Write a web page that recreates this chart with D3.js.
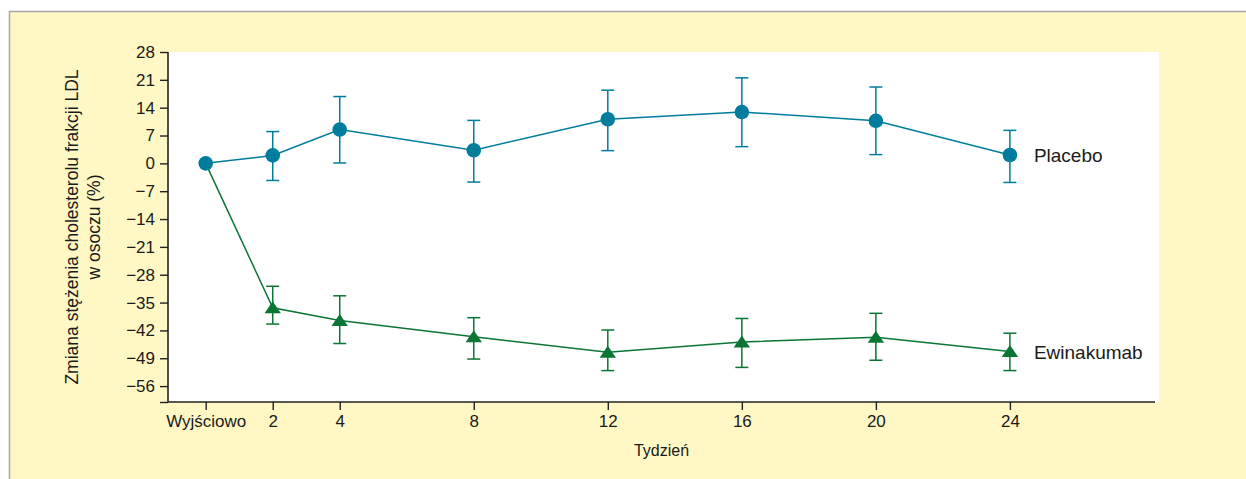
<!DOCTYPE html>
<html>
<head>
<meta charset="utf-8">
<script src="https://cdn.jsdelivr.net/npm/d3@7"></script>
<style>
  html, body { margin: 0; padding: 0; background: #ffffff; }
  svg { display: block; }
  text { font-family: "Liberation Sans", Arial, sans-serif; fill: #1a1a1a; }
</style>
</head>
<body>
<svg id="chart" width="1246" height="479"></svg>
<script>
// ---- data ----
const weeks = [0, 2, 4, 8, 12, 16, 20, 24];
const weekLabels = ["Wyjściowo", "2", "4", "8", "12", "16", "20", "24"];
const yTicks = [28, 21, 14, 7, 0, -7, -14, -21, -28, -35, -42, -49, -56];

const placeboMean  = [0, 2.0, 8.5, 3.3, 11.1, 12.9, 10.7, 2.1];
const placeboUpper = [null, 8.0, 16.8, 10.8, 18.4, 21.5, 19.2, 8.3];
const placeboLower = [null, -4.3, 0.1, -4.7, 3.2, 4.2, 2.2, -4.8];

const evinMean  = [0, -36.3, -39.5, -43.6, -47.5, -44.9, -43.7, -47.3];
const evinUpper = [null, -30.9, -33.3, -38.8, -41.9, -39.0, -37.7, -42.7];
const evinLower = [null, -40.4, -45.3, -49.2, -52.1, -51.3, -49.5, -52.1];

const seriesNames = ["Placebo", "Ewinakumab"];
const yTitleLines = ["Zmiana stężenia cholesterolu frakcji LDL", "w osoczu (%)"];
const xTitle = "Tydzień";

// ---- layout ----
const svg = d3.select("#chart");
const W = 1246, H = 479;
const plotLeft = 168, plotRight = 1155, plotTop = 52, plotBottom = 402;

const x = d3.scaleLinear().domain([-1.125, 28.33]).range([plotLeft, plotRight]);
const y = d3.scaleLinear().domain([-60, 28]).range([plotBottom, plotTop]);

const colPlacebo = "#007c9c";
const colEvin = "#0b7536";

// frame background
svg.append("rect")
  .attr("x", 9.5).attr("y", 11.5)
  .attr("width", W).attr("height", H)
  .attr("fill", "#fff8c5")
  .attr("stroke", "#a6a6a6").attr("stroke-width", 1.5);

// white plotting area
svg.append("rect")
  .attr("x", plotLeft).attr("y", plotTop)
  .attr("width", 1159 - plotLeft).attr("height", plotBottom - plotTop)
  .attr("fill", "#ffffff");

// y axis
const yAxis = d3.axisLeft(y)
  .tickValues(yTicks.concat([-60]))
  .tickSize(8).tickPadding(5)
  .tickFormat(d => d === -60 ? "" : (d < 0 ? "\u2212" + Math.abs(d) : String(d)));
const gy = svg.append("g").attr("transform", `translate(${plotLeft},0)`).call(yAxis);
gy.select(".domain").attr("stroke", "#222").attr("stroke-width", 1.6).attr("d", `M0,${plotBottom}V${plotTop}`);
gy.selectAll(".tick line").attr("stroke", "#222").attr("stroke-width", 1.4);
gy.selectAll(".tick text").attr("font-size", 17).attr("fill", "#1a1a1a")
  .style("font-family", '"Liberation Sans", Arial, sans-serif');

// x axis
const xAxis = d3.axisBottom(x)
  .tickValues(weeks)
  .tickSize(8).tickPadding(5)
  .tickFormat((d, i) => weekLabels[i]);
const gx = svg.append("g").attr("transform", `translate(0,${plotBottom})`).call(xAxis);
gx.select(".domain").attr("stroke", "#222").attr("stroke-width", 1.6).attr("d", `M${plotLeft},0H${plotRight}`);
gx.selectAll(".tick line").attr("stroke", "#222").attr("stroke-width", 1.4);
gx.selectAll(".tick text").attr("font-size", 17).attr("fill", "#1a1a1a")
  .style("font-family", '"Liberation Sans", Arial, sans-serif');

// titles
svg.append("text")
  .attr("x", (plotLeft + plotRight) / 2).attr("y", 456)
  .attr("text-anchor", "middle").attr("font-size", 16)
  .text(xTitle);

const yt = svg.append("g").attr("transform", `translate(73,${(plotTop + plotBottom) / 2}) rotate(-90)`);
yTitleLines.forEach((t, i) => {
  yt.append("text")
    .attr("x", 0).attr("y", i * 22)
    .attr("text-anchor", "middle").attr("dominant-baseline", "middle")
    .attr("font-size", 17.5)
    .text(t);
});

// series drawing
function drawSeries(mean, upper, lower, color, shape, label) {
  const g = svg.append("g");
  const line = d3.line().x((d, i) => x(weeks[i])).y(d => y(d));
  g.append("path").datum(mean)
    .attr("d", line).attr("fill", "none")
    .attr("stroke", color).attr("stroke-width", 1.5);

  const idx = d3.range(weeks.length).filter(i => upper[i] !== null);
  const eb = g.selectAll(".eb").data(idx).enter().append("g");
  eb.append("line")
    .attr("x1", i => x(weeks[i])).attr("x2", i => x(weeks[i]))
    .attr("y1", i => y(upper[i])).attr("y2", i => y(lower[i]))
    .attr("stroke", color).attr("stroke-width", 1.5);
  [upper, lower].forEach(arr => {
    eb.append("line")
      .attr("x1", i => x(weeks[i]) - 6.5).attr("x2", i => x(weeks[i]) + 6.5)
      .attr("y1", i => y(arr[i])).attr("y2", i => y(arr[i]))
      .attr("stroke", color).attr("stroke-width", 1.5);
  });

  const pts = d3.range(weeks.length).filter(i => !(shape === "triangle" && i === 0));
  if (shape === "circle") {
    g.selectAll(".pt").data(pts).enter().append("circle")
      .attr("cx", i => x(weeks[i])).attr("cy", i => y(mean[i]))
      .attr("r", 7.3).attr("fill", color);
  } else {
    g.selectAll(".pt").data(pts).enter().append("path")
      .attr("transform", i => `translate(${x(weeks[i])},${y(mean[i])})`)
      .attr("d", "M0,-6.5L8.2,5.5L-8.2,5.5Z").attr("fill", color);
  }
  const last = weeks.length - 1;
  svg.append("text")
    .attr("x", x(weeks[last]) + 24).attr("y", y(mean[last]) + 2)
    .attr("dominant-baseline", "middle")
    .attr("font-size", 19)
    .text(label);
}

drawSeries(evinMean, evinUpper, evinLower, colEvin, "triangle", seriesNames[1]);
drawSeries(placeboMean, placeboUpper, placeboLower, colPlacebo, "circle", seriesNames[0]);
</script>
</body>
</html>
